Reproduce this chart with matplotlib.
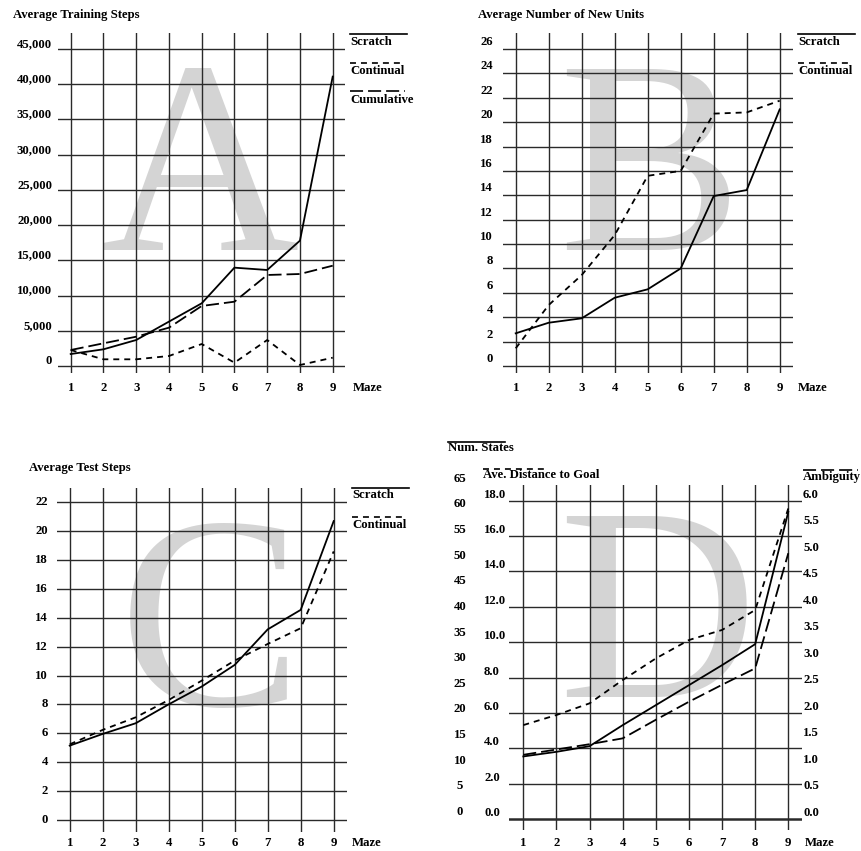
import matplotlib
matplotlib.use("Agg")
import matplotlib.pyplot as plt
import matplotlib.transforms as mtransforms
from matplotlib.lines import Line2D

plt.rcParams['font.family'] = ['Liberation Serif', 'DejaVu Serif']
plt.rcParams['font.weight'] = 'bold'
plt.rcParams['lines.scale_dashes'] = False

W, H, DPI = 861, 851, 100
FS = 9.2
SOLID = '-'
SHORT = (0, (4.3, 3.6))
LONG = (0, (9.4, 3.6))
GRID_C = '#2a2a2a'
WATERMARK_C = '#d4d4d4'

mazes = [1, 2, 3, 4, 5, 6, 7, 8, 9]

# (A) average training steps
a_ticks = [0, 5000, 10000, 15000, 20000, 25000, 30000, 35000, 40000, 45000]
a_scratch = [1700, 2370, 3690, 6300, 8900, 13960, 13630, 17800, 41080]
a_continual = [2270, 950, 950, 1420, 3120, 470, 3690, 140, 1180]
a_cumulative = [2270, 3220, 4160, 5440, 8520, 9130, 12920, 13060, 14240]

# (B) average number of new units
b_ticks = [0, 2, 4, 6, 8, 10, 12, 14, 16, 18, 20, 22, 24, 26]
b_scratch = [2.68, 3.55, 3.91, 5.6, 6.29, 8.0, 13.94, 14.43, 21.05]
b_continual = [1.45, 5.0, 7.46, 10.74, 15.6, 16.0, 20.7, 20.8, 21.76]

# (C) average test steps
c_ticks = [0, 2, 4, 6, 8, 10, 12, 14, 16, 18, 20, 22]
c_scratch = [5.15, 5.96, 6.7, 8.01, 9.24, 10.74, 13.2, 14.55, 20.7]
c_continual = [5.24, 6.24, 7.11, 8.31, 9.65, 11.04, 12.19, 13.28, 18.6]

# (D) maze statistics, three scales
d_dist_ticks = [0, 2, 4, 6, 8, 10, 12, 14, 16, 18]
d_states_ticks = [0, 5, 10, 15, 20, 25, 30, 35, 40, 45, 50, 55, 60, 65]
d_amb_ticks = [0.0, 0.5, 1.0, 1.5, 2.0, 2.5, 3.0, 3.5, 4.0, 4.5, 5.0, 5.5, 6.0]
d_states = [12.2, 13.1, 14.2, 18.3, 22.2, 26.1, 30.0, 34.1, 59.9]
d_distance = [5.31, 5.88, 6.54, 7.86, 9.08, 10.12, 10.69, 11.82, 17.56]
d_ambiguity = [1.21, 1.31, 1.41, 1.52, 1.87, 2.21, 2.53, 2.84, 5.01]

fig = plt.figure(figsize=(W / DPI, H / DPI), dpi=DPI)


def px_ax(box, x1px, x9px, v0, p0, v1, p1):
    # box = left, top, right, bottom in pixels; anchors map data to pixels
    l, t, r, b = box
    ax = fig.add_axes([l / W, 1 - b / H, (r - l) / W, (b - t) / H])
    sx = (x9px - x1px) / 8.0
    ax.set_xlim(1 + (l - x1px) / sx, 9 + (r - x9px) / sx)
    sy = (p0 - p1) / (v1 - v0)
    ax.set_ylim(v0 - (b - p0) / sy, v1 + (p1 - t) / sy)
    ax.set_axis_off()
    ax.patch.set_alpha(0)
    return ax


def twin_scale(ax, v0, p0, v1, p1, box):
    l, t, r, b = box
    tw = fig.add_axes(ax.get_position())
    tw.set_xlim(ax.get_xlim())
    sy = (p0 - p1) / (v1 - v0)
    tw.set_ylim(v0 - (b - p0) / sy, v1 + (p1 - t) / sy)
    tw.set_axis_off()
    tw.patch.set_alpha(0)
    return tw


def grid(ax, yticks, lw_bottom=1.0):
    for y in yticks:
        ax.axhline(y, color=GRID_C, lw=lw_bottom if y == yticks[0] else 1.0, zorder=1)
    for x in mazes:
        ax.axvline(x, color=GRID_C, lw=1.0, zorder=1)


def ylabels(ax, ticks, labels, xpx, ha='right', dy=6):
    tr = mtransforms.blended_transform_factory(fig.transFigure, ax.transData)
    tr = tr + mtransforms.ScaledTranslation(0, dy / DPI, fig.dpi_scale_trans)
    for v, s in zip(ticks, labels):
        ax.text(xpx / W, v, s, transform=tr, ha=ha, va='center', fontsize=FS)


def xlabels(ax, ypx, maze_x):
    tr = mtransforms.blended_transform_factory(ax.transData, fig.transFigure)
    for m in mazes:
        ax.text(m, 1 - ypx / H, str(m), transform=tr, ha='center', va='center', fontsize=FS)
    fig.text(maze_x / W, 1 - ypx / H, 'Maze', ha='left', va='center', fontsize=FS)


def ftext(xpx, ypx, s, **kw):
    kw.setdefault('fontsize', FS)
    fig.text(xpx / W, 1 - ypx / H, s, **kw)


def legend_item(xpx, ypx, x1px, line_y, s, ls):
    fig.add_artist(Line2D([xpx / W, x1px / W], [1 - line_y / H] * 2, transform=fig.transFigure,
                          color='black', lw=1.2, linestyle=ls))
    ftext(xpx, ypx, s, ha='left', va='center')


def watermark(ax, xc, ybase, letter):
    ax.text(xc / W, 1 - ybase / H, letter, transform=fig.transFigure, ha='center', va='baseline',
            fontsize=198, fontweight='normal', color=WATERMARK_C, zorder=0,
            family='Liberation Serif')


def series(ax, y, ls):
    ax.plot(mazes, y, color='black', lw=1.3, linestyle=ls, zorder=3)


# ---- A ----
boxA = (58, 33, 345, 373)
axA = px_ax(boxA, 70.7, 332.7, 0, 366, 45000, 49)
watermark(axA, 200, 250, 'A')
grid(axA, a_ticks)
series(axA, a_scratch, SOLID)
series(axA, a_continual, SHORT)
series(axA, a_cumulative, LONG)
ylabels(axA, a_ticks, ['0' if v == 0 else f'{v:,}' for v in a_ticks], 52, dy=5)
xlabels(axA, 388, 353)
ftext(13, 15, 'Average Training Steps', ha='left', va='center')
legend_item(350, 42, 407, 34, 'Scratch', SOLID)
legend_item(350, 71, 404, 63, 'Continual', SHORT)
legend_item(350, 100, 405, 91, 'Cumulative', LONG)

# ---- B ----
boxB = (502.7, 33, 792.7, 373)
axB = px_ax(boxB, 515.7, 779.7, 0, 366, 26, 49)
watermark(axB, 650, 250, 'B')
grid(axB, b_ticks)
series(axB, b_scratch, SOLID)
series(axB, b_continual, SHORT)
ylabels(axB, b_ticks, [str(v) for v in b_ticks], 493, dy=7)
xlabels(axB, 388, 798)
ftext(478, 15, 'Average Number of New Units', ha='left', va='center')
legend_item(798, 42, 855, 34, 'Scratch', SOLID)
legend_item(798, 71, 852, 63, 'Continual', SHORT)

# ---- C ----
boxC = (57.3, 488.3, 346.7, 831.7)
axC = px_ax(boxC, 69.7, 333.7, 0, 820, 22, 502.3)
watermark(axC, 210, 705, 'C')
grid(axC, c_ticks)
series(axC, c_scratch, SOLID)
series(axC, c_continual, SHORT)
ylabels(axC, c_ticks, [str(v) for v in c_ticks], 48, dy=0)
xlabels(axC, 843, 352)
ftext(29, 468, 'Average Test Steps', ha='left', va='center')
legend_item(352, 495, 409, 488, 'Scratch', SOLID)
legend_item(352, 525, 406, 517, 'Continual', SHORT)

# ---- D ----
boxD = (509.3, 485, 801.7, 830)
axD = px_ax(boxD, 523.3, 788.3, 0, 819, 18, 500.7)
watermark(axD, 657, 697, 'D')
grid(axD, d_dist_ticks, lw_bottom=1.8)
series(axD, d_distance, SHORT)
ylabels(axD, d_dist_ticks, [f'{v:.1f}' for v in d_dist_ticks], 484, ha='left', dy=6)

axDs = twin_scale(axD, 0, 819, 65, 485.7, boxD)
series(axDs, d_states, SOLID)
ylabels(axDs, d_states_ticks, [str(v) for v in d_states_ticks], 460, ha='center', dy=7)

axDa = twin_scale(axD, 0, 819, 6, 500.7, boxD)
series(axDa, d_ambiguity, LONG)
ylabels(axDa, d_amb_ticks, [f'{v:.1f}' for v in d_amb_ticks], 803, ha='left', dy=6)

xlabels(axD, 842.7, 805)
legend_item(448, 448, 505, 441.5, 'Num. States', SOLID)
legend_item(483, 475, 545, 469, 'Ave. Distance to Goal', SHORT)
legend_item(803, 477, 858, 470, 'Ambiguity', LONG)

fig.savefig('out.png', dpi=DPI)
